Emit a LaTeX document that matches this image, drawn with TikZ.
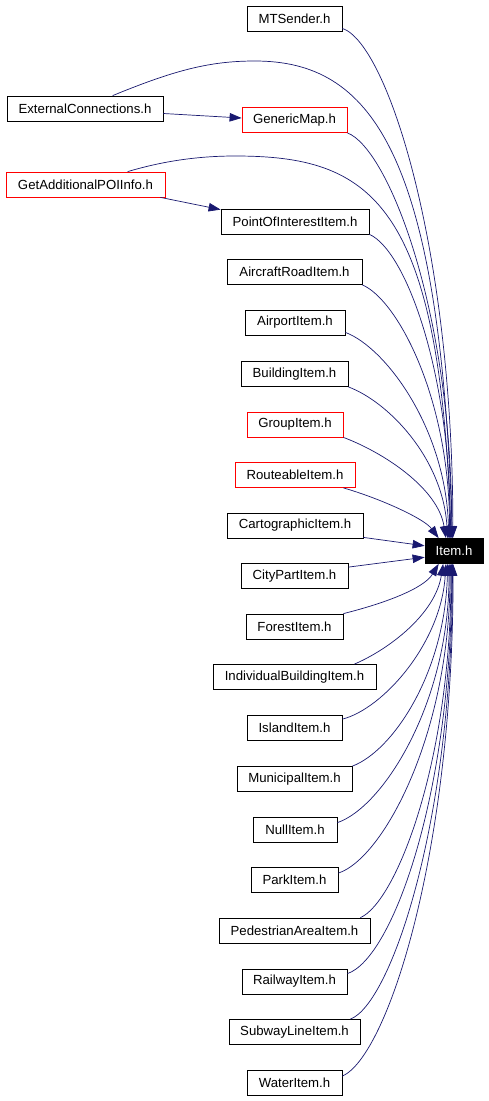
\documentclass[tikz,border=0pt]{standalone}
\usepackage{fontspec}
\setmainfont{Liberation Sans}
\usetikzlibrary{arrows.meta,calc}
\definecolor{edgecol}{HTML}{191970}
\begin{document}
\begin{tikzpicture}[x=1pt,y=-1pt,
  box/.style={draw=black, line width=0.8pt, minimum height=25pt, inner sep=0pt,
    font=\fontsize{13.2}{15}\selectfont, text=black, fill=white},
  redbox/.style={box, draw=red},
  itembox/.style={box, fill=black, text=white},
  edge/.style={draw=edgecol, line width=0.7pt, -{Triangle[length=12pt,width=8.5pt]}}]
\fill[white] (0,0) rectangle (488,1101);
\useasboundingbox (0,0) rectangle (488,1101);

\node[box, minimum width=95pt] (mt) at (294.5,18.5) {MTSender.h};
\node[box, minimum width=156pt] (ext) at (85,108.5) {ExternalConnections.h};
\node[redbox, minimum width=105pt] (gm) at (294.5,120) {GenericMap.h};
\node[redbox, minimum width=159pt] (gap) at (85.5,184.5) {GetAdditionalPOIInfo.h};
\node[box, minimum width=148pt] (poi) at (295,221.5) {PointOfInterestItem.h};
\node[box, minimum width=135pt] (acr) at (294.5,272) {AircraftRoadItem.h};
\node[box, minimum width=100pt] (apt) at (295,322.5) {AirportItem.h};
\node[box, minimum width=107pt] (bld) at (294.5,374) {BuildingItem.h};
\node[redbox, minimum width=96pt] (grp) at (295,424.5) {GroupItem.h};
\node[redbox, minimum width=120pt] (rt) at (295,475) {RouteableItem.h};
\node[box, minimum width=136pt] (cart) at (295,525.5) {CartographicItem.h};
\node[itembox, minimum width=58pt] (item) at (454,551) {Item.h};
\node[box, minimum width=107pt] (cp) at (294.5,576) {CityPartItem.h};
\node[box, minimum width=97pt] (frs) at (294.5,626.5) {ForestItem.h};
\node[box, minimum width=163pt] (ind) at (294.5,677) {IndividualBuildingItem.h};
\node[box, minimum width=95pt] (isl) at (294.5,728) {IslandItem.h};
\node[box, minimum width=115pt] (mun) at (294.5,779) {MunicipalItem.h};
\node[box, minimum width=84pt] (nul) at (295,829.5) {NullItem.h};
\node[box, minimum width=87pt] (prk) at (294.5,880) {ParkItem.h};
\node[box, minimum width=151pt] (ped) at (294.5,930.5) {PedestrianAreaItem.h};
\node[box, minimum width=105pt] (rly) at (294.5,981.5) {RailwayItem.h};
\node[box, minimum width=131pt] (sub) at (294.5,1032) {SubwayLineItem.h};
\node[box, minimum width=95pt] (wat) at (294.5,1083) {WaterItem.h};

% edges among upper nodes
\draw[edge] ($(ext.east)+(0,5)$) -- ($(gm.west)+(0,-2)$);
\draw[edge] ($(gap.south east)+(-5,0)$) -- ($(poi.north west)+(0,1)$);

% top group into Item.h
\draw[edge] ($(mt.south east)+(0,-3)$) .. controls +(45,15) and +(0,-290) .. (item.95);
\draw[edge] (ext.25) .. controls (175,70) and (210,61) .. (255,61)
  .. controls (370,61) and (440,150) .. (item.97);
\draw[edge] (gm.south east) .. controls +(40,15) and +(0,-230) .. (item.100);
\draw[edge] (gap.17) .. controls (160,162) and (195,156) .. (235,156)
  .. controls (370,156) and (440,200) .. (item.103);
\draw[edge] (poi.south east) .. controls +(35,15) and +(0,-170) .. (item.106);
\draw[edge] (acr.south east) .. controls +(35,15) and +(0,-140) .. (item.109);
\draw[edge] ($(apt.south east)+(0,-3)$) .. controls +(40,15) and +(-3,-110) .. (item.112);
\draw[edge] (bld.south east) .. controls +(40,15) and +(-5,-80) .. (item.116);
\draw[edge] (grp.south east) .. controls +(40,15) and +(-8,-50) .. (item.122);
\draw[edge] ($(rt.south east)+(-12,0)$) .. controls +(35,10) and +(-15,-20) .. (item.140);

% side
\draw[edge] ($(cart.south east)+(0,-1)$) -- (item.170);
\draw[edge] ($(cp.north east)+(0,4)$) -- (item.-168);

% bottom group into Item.h
\draw[edge] (frs.north east) .. controls +(40,-10) and +(-15,25) .. (item.-140);
\draw[edge] ($(ind.north east)+(-22,0)$) .. controls +(35,-15) and +(-8,50) .. (item.-130);
\draw[edge] ($(isl.north east)+(0,4)$) .. controls +(40,-10) and +(-5,80) .. (item.-122);
\draw[edge] (mun.north east) .. controls +(40,-15) and +(-3,110) .. (item.-116);
\draw[edge] ($(nul.north east)+(0,6)$) .. controls +(45,-15) and +(0,140) .. (item.-111);
\draw[edge] ($(prk.north east)+(0,6)$) .. controls +(45,-15) and +(0,170) .. (item.-107);
\draw[edge] ($(ped.north east)+(-10,0)$) .. controls +(35,-15) and +(0,200) .. (item.-103);
\draw[edge] ($(rly.north east)+(0,5)$) .. controls +(45,-15) and +(0,230) .. (item.-100);
\draw[edge] ($(sub.north east)+(-10,0)$) .. controls +(40,-15) and +(0,260) .. (item.-97);
\draw[edge] ($(wat.north east)+(0,6)$) .. controls +(45,-20) and +(0,290) .. (item.-94);
\end{tikzpicture}
\end{document}
